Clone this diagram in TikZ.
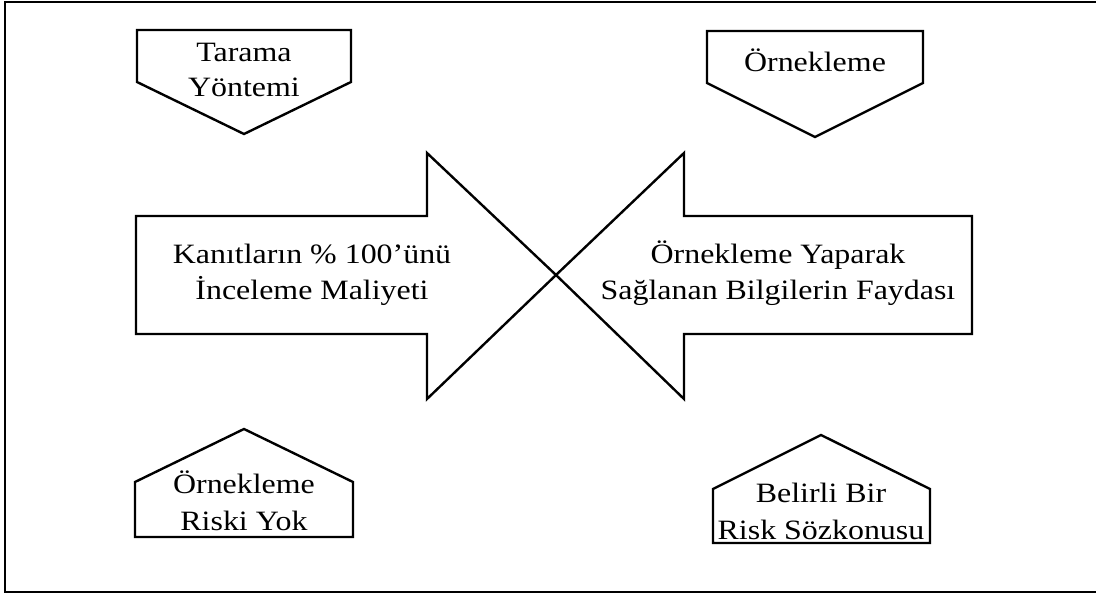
\documentclass[tikz,border=0pt]{standalone}
\usepackage{fontspec}
\setmainfont{Liberation Serif}[FakeStretch=1.14]
\begin{document}
\begin{tikzpicture}[x=0.75pt,y=-0.75pt,
  outline/.style={draw=black,line width=1.8pt,line join=miter,fill=white},
  frameline/.style={draw=black,line width=1.8pt},
  lbl/.style={anchor=base,inner sep=0pt,font=\fontsize{21pt}{28pt}\selectfont}]
\useasboundingbox (0,0) rectangle (1096,595);

% open frame (left, top, bottom)
\draw[frameline] (1096,2) -- (5,2) -- (5,592) -- (1096,592);

% two block arrows meeting tip to tip
\draw[outline] (136,216) -- (427,216) -- (427,153) -- (556,275)
  -- (427,399) -- (427,334) -- (136,334) -- cycle;
\draw[outline] (972,216) -- (684,216) -- (684,153) -- (556,275)
  -- (684,399) -- (684,334) -- (972,334) -- cycle;

% downward pentagons
\draw[outline] (137,30) -- (351,30) -- (351,82) -- (244,134) -- (137,82) -- cycle;
\draw[outline] (707,31) -- (923,31) -- (923,83) -- (815,137) -- (707,83) -- cycle;

% upward pentagons
\draw[outline] (135,537) -- (353,537) -- (353,482) -- (244,429) -- (135,482) -- cycle;
\draw[outline] (713,543) -- (930,543) -- (930,489) -- (821,435) -- (713,489) -- cycle;

% labels
\node[lbl] (taramaA) at (244,62) {Tarama};
\node[lbl] (taramaB) at (244,97) {Yöntemi};
\node[lbl] (ornek) at (815,72) {Örnekleme};

\node[lbl] (kanitA) at (312,264) {Kanıtların \% 100’ünü};
\node[lbl] (kanitB) at (312,300) {İnceleme Maliyeti};

\node[lbl] (faydaA) at (778,264) {Örnekleme Yaparak};
\node[lbl] (faydaB) at (778,300) {Sağlanan Bilgilerin Faydası};

\node[lbl] (riskyokA) at (244,493) {Örnekleme};
\node[lbl] (riskyokB) at (244,530) {Riski Yok};

\node[lbl] (riskA) at (821,502) {Belirli Bir};
\node[lbl] (riskB) at (821,539) {Risk Sözkonusu};
\end{tikzpicture}
\end{document}
